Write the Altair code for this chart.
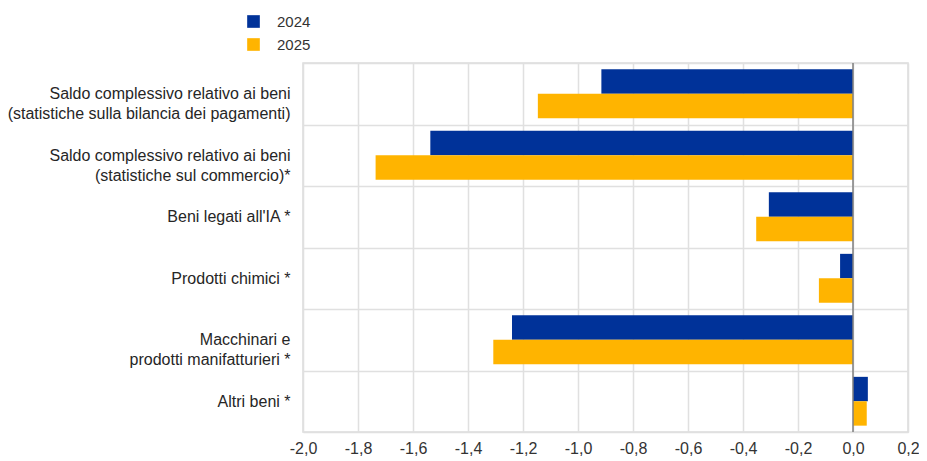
import altair as alt
import pandas as pd

categories = [
    "Saldo complessivo relativo ai beni|(statistiche sulla bilancia dei pagamenti)",
    "Saldo complessivo relativo ai beni|(statistiche sul commercio)*",
    "Beni legati all'IA *",
    "Prodotti chimici *",
    "Macchinari e|prodotti manifatturieri *",
    "Altri beni *",
]
years = ["2024", "2025"]
values_2024 = [-0.915, -1.537, -0.306, -0.047, -1.240, 0.054]
values_2025 = [-1.146, -1.736, -0.352, -0.124, -1.308, 0.050]
x_ticks = [-2.0, -1.8, -1.6, -1.4, -1.2, -1.0, -0.8, -0.6, -0.4, -0.2, 0.0, 0.2]
colors = ["#003299", "#FFB400"]

rows = []
for c, a, b in zip(categories, values_2024, values_2025):
    rows.append({"category": c, "year": years[0], "value": a})
    rows.append({"category": c, "year": years[1], "value": b})
df = pd.DataFrame(rows)
zero_df = pd.DataFrame({"v": [0.0]})

xscale = alt.Scale(domain=[-2.0, 0.2], nice=False, zero=False)

bars = alt.Chart(df).mark_bar().encode(
    x=alt.X(
        "value:Q",
        scale=xscale,
        axis=alt.Axis(
            values=x_ticks,
            title=None,
            domain=False,
            ticks=False,
            grid=True,
            labelFlush=False,
            labelPadding=8,
            labelFontSize=16,
            labelColor="#333333",
            labelFont="Liberation Sans",
            labelExpr="replace(replace(format(datum.value, '.1f'), '.', ','), '\u2212', '-')",
        ),
    ),
    y=alt.Y(
        "category:N",
        sort=categories,
        scale=alt.Scale(paddingInner=0, paddingOuter=0),
        axis=alt.Axis(
            title=None,
            domain=False,
            ticks=False,
            tickSize=0,
            grid=True,
            tickBand="extent",
            labelAlign="right",
            labelPadding=13,
            labelFontSize=16,
            labelLineHeight=20,
            labelColor="#262626",
            labelFont="Liberation Sans",
            labelExpr="split(datum.label, '|')",
            labelLimit=400,
        ),
    ),
    yOffset=alt.YOffset(
        "year:N",
        sort=years,
        scale=alt.Scale(paddingInner=0, paddingOuter=0.26),
    ),
    color=alt.Color(
        "year:N",
        sort=years,
        scale=alt.Scale(domain=years, range=colors),
        legend=alt.Legend(
            title=None,
            orient="none",
            legendX=-57,
            legendY=-49,
            symbolType="square",
            symbolSize=160,
            symbolStrokeWidth=0,
            labelOffset=16,
            rowPadding=7,
            labelFontSize=15,
            labelColor="#333333",
            labelFont="Liberation Sans",
        ),
    ),
)

zero_rule = alt.Chart(zero_df).mark_rule(color="#7f7f7f", strokeWidth=1.5).encode(
    x=alt.X("v:Q", scale=xscale)
)

chart = (
    alt.layer(bars, zero_rule)
    .properties(
        width=605,
        height=369,
        autosize=alt.AutoSizeParams(type="none"),
        padding={"left": 295, "top": 55, "right": 11, "bottom": 28},
    )
    .configure_view(stroke="#dcdcdc", strokeWidth=1.5)
    .configure_axis(gridColor="#e0e0e0", gridWidth=1.5)
)

chart.save("out.html", embed_options={"renderer": "svg", "actions": False})
